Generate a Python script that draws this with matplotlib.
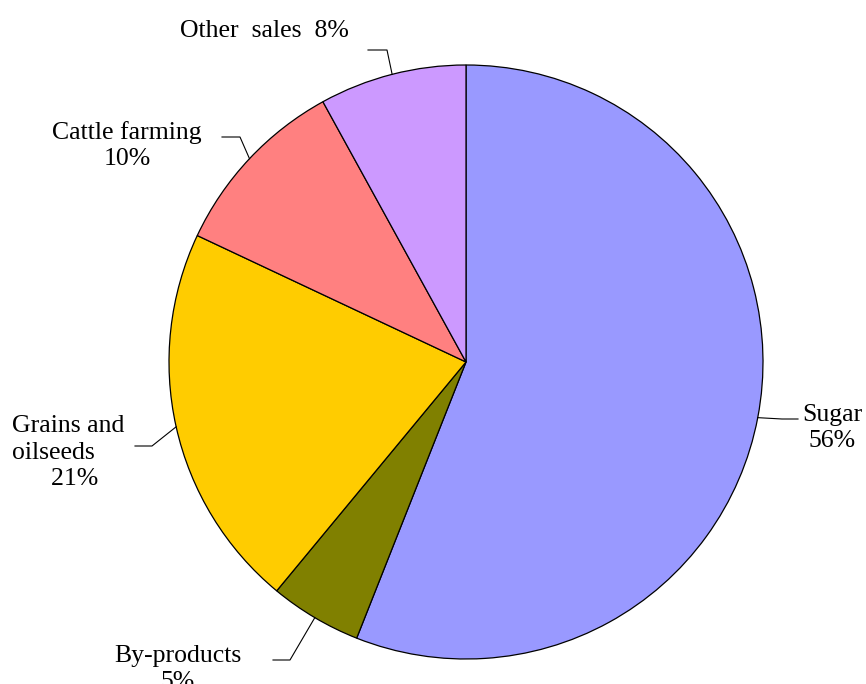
import numpy as np
import matplotlib.pyplot as plt

plt.rcParams['font.family'] = ['Liberation Serif', 'DejaVu Serif']

categories = ["Sugar", "By-products", "Grains and oilseeds", "Cattle farming", "Other sales"]
shares = [56, 5, 21, 10, 8]
colors = ["#9999ff", "#808000", "#ffcc00", "#ff8080", "#cc99ff"]
label_fmt = ["Sugar\n{}%", "By-products\n{}%", "Grains and\noilseeds\n      {}%",
             "Cattle farming\n{}%", "Other  sales  {}%"]

# leader elbow / end points and text anchors (baseline of last line), pixel space, y down
elbows = [(782, 419), (290, 660), (152, 446), (240, 137), (387, 50)]
ends = [(798, 419), (273, 660), (135, 446), (222, 137), (368, 50)]
text_pos = [(832, 447, "center"), (178, 688, "center"), (12, 485, "left"),
            (127, 165, "center"), (264, 37, "center")]

cx, cy, r = 466, 362, 297

fig = plt.figure(figsize=(8.66, 6.84), dpi=100)
ax = fig.add_axes([0, 0, 1, 1])

# y axis runs downward, so counterclockwise from -90 draws clockwise from the top
wedges, _ = ax.pie(shares, colors=colors, startangle=-90, counterclock=True,
                   center=(cx, cy), radius=r,
                   wedgeprops=dict(edgecolor="black", linewidth=0.9))
ax.set_xlim(0, 866)
ax.set_ylim(684, 0)
ax.set_aspect("auto")
ax.axis("off")

for w, share, fmt, el, en, (tx, ty, ha) in zip(wedges, shares, label_fmt, elbows, ends, text_pos):
    mid = np.deg2rad((w.theta1 + w.theta2) / 2)
    ex, ey = cx + r * np.cos(mid), cy + r * np.sin(mid)
    ax.plot([ex, el[0], en[0]], [ey, el[1], en[1]], color="black", lw=0.8)
    ax.text(tx, ty, fmt.format(share), ha=ha, va="baseline", multialignment=ha,
            fontsize=18.5, linespacing=1.25, clip_on=False)

fig.savefig("out.png", dpi=100)
